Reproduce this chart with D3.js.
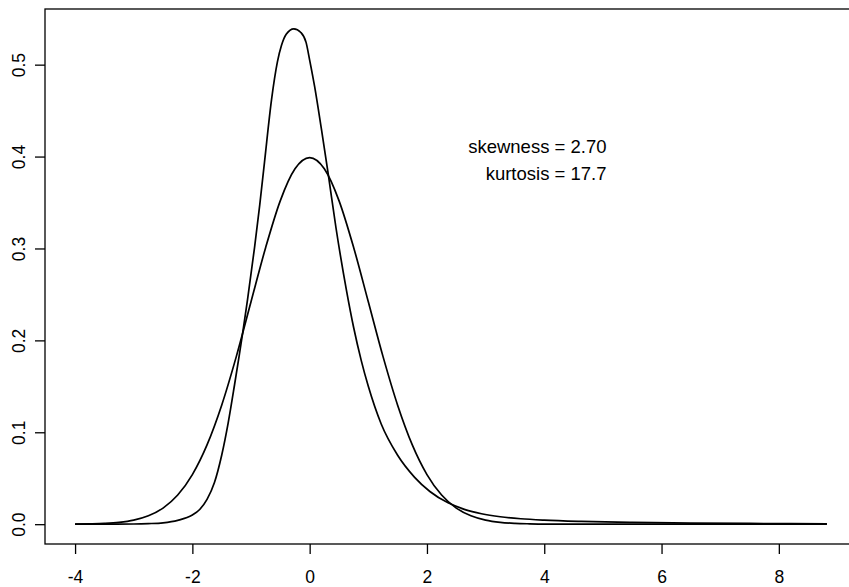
<!DOCTYPE html>
<html lang="en">
<head>
    <meta charset="UTF-8">
    <title>Skewed density vs normal</title>
    <script src="https://d3js.org/d3.v7.min.js"></script>
    <style>
        body { margin: 0; background: #fff; }
        svg { display: block; font-family: "Liberation Sans", Arial, sans-serif; }
    </style>
</head>
<body>
    <div id="chart"></div>
    <script>
        // normal density
        const normalX = [-4, -3.75, -3.5, -3.25, -3, -2.75, -2.5, -2.25, -2, -1.75, -1.5, -1.25, -1, -0.75, -0.5, -0.25, 0,
                         0.25, 0.5, 0.75, 1, 1.25, 1.5, 1.75, 2, 2.25, 2.5, 2.75, 3, 3.25, 3.5, 3.75, 4, 4.5, 5, 6, 7, 8, 8.82];
        const normalY = [0.0001, 0.0004, 0.0009, 0.002, 0.0044, 0.0091, 0.0175, 0.0317, 0.054, 0.0863, 0.1295, 0.1826, 0.242, 0.3011, 0.3521, 0.3867, 0.3989,
                         0.3867, 0.3521, 0.3011, 0.242, 0.1826, 0.1295, 0.0863, 0.054, 0.0317, 0.0175, 0.0091, 0.0044, 0.002, 0.0009, 0.0004, 0.0001, 0, 0, 0, 0, 0, 0];

        // skewed, heavy-tailed density
        const skewX = [-4, -3.5, -3, -2.75, -2.5, -2.25, -2, -1.875, -1.75, -1.625, -1.5, -1.39, -1.28, -1.2, -1.14, -1.06, -0.94, -0.85, -0.77,
                       -0.65, -0.55, -0.48, -0.4, -0.27, -0.15, -0.06, 0, 0.085, 0.2, 0.31, 0.45, 0.626, 0.75, 0.88, 1, 1.22, 1.5, 1.79,
                       2.05, 2.36, 2.65, 2.93, 3.25, 3.6, 4, 4.63, 5.5, 6.5, 7.5, 8.82];
        const skewY = [0, 0.00002, 0.0002, 0.0006, 0.0015, 0.0042, 0.010, 0.016, 0.027, 0.045, 0.075, 0.110, 0.152, 0.184, 0.209, 0.244, 0.301, 0.348, 0.394,
                       0.462, 0.503, 0.521, 0.533, 0.539, 0.535, 0.524, 0.505, 0.476, 0.430, 0.384, 0.322, 0.255, 0.214, 0.178, 0.150, 0.109, 0.075, 0.051,
                       0.0356, 0.0232, 0.0159, 0.0114, 0.0081, 0.0059, 0.0044, 0.0030, 0.0019, 0.0012, 0.0008, 0.0005];

        const xTicks = [-4, -2, 0, 2, 4, 6, 8];
        const yTicks = [0, 0.1, 0.2, 0.3, 0.4, 0.5];
        const noteLines = ["skewness = 2.70", "kurtosis = 17.7"];

        const width = 849, height = 587;
        const plot = {left: 45, top: 9, right: 857, bottom: 544};

        const svg = d3.select("#chart").append("svg")
            .attr("width", width)
            .attr("height", height);

        // R style 4% padding around the data range
        const xMin = -4, xMax = 8.82, yMin = 0, yMax = 0.539;
        const xPad = (xMax - xMin) * 0.04, yPad = (yMax - yMin) * 0.04;

        const x = d3.scaleLinear().domain([xMin - xPad, xMax + xPad]).range([plot.left, plot.right]);
        const y = d3.scaleLinear().domain([yMin - yPad, yMax + yPad]).range([plot.bottom, plot.top]);

        const line = d3.line()
            .x(d => x(d[0]))
            .y(d => y(d[1]))
            .curve(d3.curveMonotoneX);

        const normalData = normalX.map((v, i) => [v, normalY[i]]);
        const skewData = skewX.map((v, i) => [v, skewY[i]]);

        [normalData, skewData].forEach(data => {
            svg.append("path")
                .datum(data)
                .attr("fill", "none")
                .attr("stroke", "#000")
                .attr("stroke-width", 1.7)
                .attr("d", line);
        });

        // box
        svg.append("rect")
            .attr("x", plot.left)
            .attr("y", plot.top)
            .attr("width", plot.right - plot.left)
            .attr("height", plot.bottom - plot.top)
            .attr("fill", "none")
            .attr("stroke", "#000")
            .attr("stroke-width", 1.3);

        // x axis
        const xAxis = d3.axisBottom(x)
            .tickValues(xTicks)
            .tickSize(10)
            .tickFormat(d => d < 0 ? "-" + Math.abs(d) : d);

        const gx = svg.append("g")
            .attr("transform", `translate(0,${plot.bottom})`)
            .call(xAxis);
        gx.select(".domain").remove();
        gx.selectAll(".tick line").attr("stroke", "#000").attr("stroke-width", 1.3);
        gx.selectAll(".tick text")
            .attr("y", 38.5)
            .attr("dy", null)
            .attr("font-size", 17.5)
            .attr("font-family", "Liberation Sans, Arial, sans-serif")
            .attr("fill", "#000");

        // y axis, labels turned like R does by default
        const yAxis = d3.axisLeft(y)
            .tickValues(yTicks)
            .tickSize(10)
            .tickFormat(d3.format(".1f"));

        const gy = svg.append("g")
            .attr("transform", `translate(${plot.left},0)`)
            .call(yAxis);
        gy.select(".domain").remove();
        gy.selectAll(".tick line").attr("stroke", "#000").attr("stroke-width", 1.3);
        gy.selectAll(".tick text")
            .attr("font-size", 17.5)
            .attr("font-family", "Liberation Sans, Arial, sans-serif")
            .attr("fill", "#000")
            .attr("x", null)
            .attr("dy", null)
            .attr("text-anchor", "middle")
            .attr("transform", "translate(-20,0) rotate(-90)");

        // annotation
        svg.append("g")
            .selectAll("text")
            .data(noteLines)
            .join("text")
            .attr("x", 606.5)
            .attr("y", (d, i) => 152.7 + i * 26.8)
            .attr("text-anchor", "end")
            .attr("font-size", 18.5)
            .attr("fill", "#000")
            .text(d => d);
    </script>
</body>
</html>
